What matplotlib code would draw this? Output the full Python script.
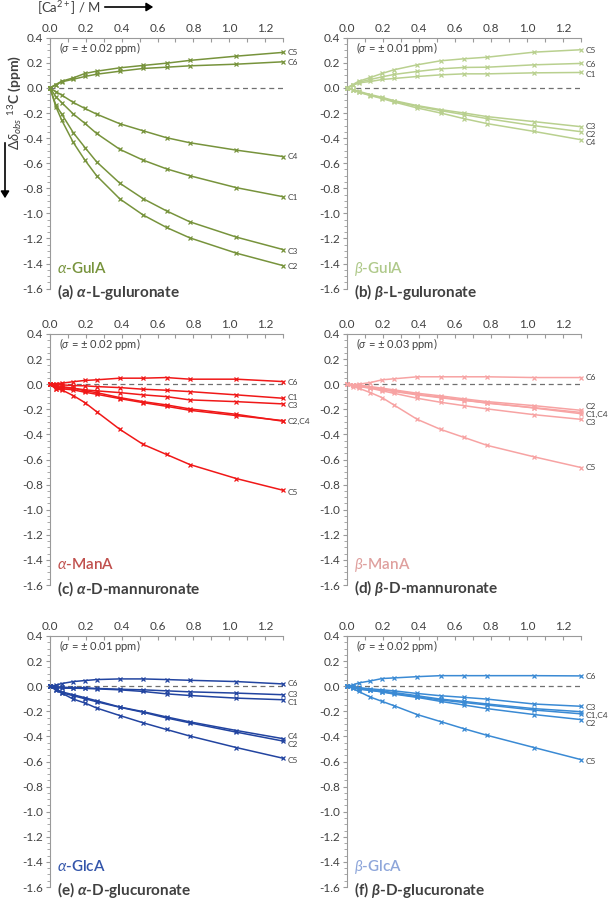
import matplotlib
matplotlib.use("Agg")
import matplotlib.pyplot as plt
from matplotlib.patches import FancyArrowPatch
from matplotlib.ticker import MultipleLocator, FormatStrFormatter

plt.rcParams["font.family"] = ["Lato", "DejaVu Sans"]
plt.rcParams["mathtext.fontset"] = "custom"
plt.rcParams["mathtext.rm"] = "Lato"
plt.rcParams["mathtext.it"] = "Lato:italic"
plt.rcParams["mathtext.bf"] = "Lato:italic:bold"

# [Ca2+] / M
CA_CONC = [0, 0.0325, 0.065, 0.13, 0.195, 0.26, 0.39, 0.52, 0.65, 0.78, 1.04, 1.30]
CARBONS = ["C1", "C2", "C3", "C4", "C5", "C6"]

# (a) alpha-L-guluronate
A_C1 = [0, -0.07, -0.117, -0.208, -0.283, -0.363, -0.49, -0.576, -0.645, -0.70, -0.795, -0.867]
A_C2 = [0, -0.149, -0.256, -0.435, -0.576, -0.70, -0.885, -1.013, -1.112, -1.195, -1.317, -1.416]
A_C3 = [0, -0.136, -0.208, -0.357, -0.475, -0.589, -0.76, -0.883, -0.98, -1.067, -1.189, -1.288]
A_C4 = [0, -0.03, -0.057, -0.116, -0.164, -0.209, -0.286, -0.342, -0.397, -0.437, -0.496, -0.547]
A_C5 = [0, 0.027, 0.053, 0.08, 0.115, 0.133, 0.16, 0.179, 0.197, 0.219, 0.253, 0.283]
A_C6 = [0, 0.025, 0.048, 0.069, 0.091, 0.109, 0.133, 0.155, 0.165, 0.176, 0.189, 0.208]

# (b) beta-L-guluronate
B_C1 = [0, 0.02, 0.04, 0.051, 0.067, 0.075, 0.091, 0.104, 0.112, 0.112, 0.12, 0.123]
B_C2 = [0, -0.016, -0.032, -0.059, -0.08, -0.107, -0.147, -0.181, -0.213, -0.245, -0.301, -0.349]
B_C3 = [0, -0.014, -0.027, -0.053, -0.075, -0.101, -0.141, -0.173, -0.2, -0.229, -0.269, -0.309]
B_C4 = [0, -0.018, -0.035, -0.061, -0.085, -0.112, -0.16, -0.2, -0.245, -0.285, -0.347, -0.413]
B_C5 = [0, 0.027, 0.053, 0.083, 0.115, 0.144, 0.184, 0.216, 0.232, 0.245, 0.285, 0.304]
B_C6 = [0, 0.022, 0.045, 0.067, 0.088, 0.107, 0.131, 0.152, 0.163, 0.165, 0.184, 0.195]

# (c) alpha-D-mannuronate
C_C1 = [0, -0.002, -0.005, -0.011, -0.013, -0.019, -0.027, -0.04, -0.048, -0.059, -0.085, -0.112]
C_C2 = [0, -0.035, -0.037, -0.045, -0.064, -0.08, -0.115, -0.147, -0.176, -0.208, -0.25, -0.29]
C_C3 = [0, -0.01, -0.019, -0.032, -0.045, -0.053, -0.067, -0.085, -0.099, -0.125, -0.139, -0.157]
C_C4 = [0, -0.02, -0.03, -0.032, -0.053, -0.067, -0.107, -0.139, -0.165, -0.197, -0.24, -0.295]
C_C5 = [0, -0.037, -0.045, -0.091, -0.147, -0.219, -0.36, -0.48, -0.56, -0.64, -0.752, -0.845]
C_C6 = [0, 0.005, 0.008, 0.02, 0.03, 0.035, 0.048, 0.048, 0.053, 0.04, 0.04, 0.021]

# (d) beta-D-mannuronate
D_C1 = [0, -0.006, -0.013, -0.027, -0.04, -0.053, -0.08, -0.104, -0.125, -0.152, -0.187, -0.225]
D_C2 = [0, -0.003, -0.005, -0.019, -0.032, -0.045, -0.072, -0.093, -0.117, -0.139, -0.171, -0.208]
D_C3 = [0, -0.01, -0.019, -0.032, -0.053, -0.072, -0.112, -0.144, -0.171, -0.197, -0.243, -0.28]
D_C4 = [0, -0.008, -0.015, -0.03, -0.045, -0.058, -0.085, -0.108, -0.13, -0.148, -0.19, -0.235]
D_C5 = [0, -0.019, -0.032, -0.067, -0.107, -0.165, -0.28, -0.36, -0.424, -0.488, -0.579, -0.664]
D_C6 = [0, -0.005, 0.0, 0.013, 0.035, 0.043, 0.059, 0.059, 0.059, 0.059, 0.053, 0.053]

# (e) alpha-D-glucuronate
E_C1 = [0, -0.01, -0.016, -0.016, -0.018, -0.021, -0.029, -0.042, -0.061, -0.074, -0.095, -0.108]
E_C2 = [0, -0.028, -0.053, -0.076, -0.1, -0.124, -0.168, -0.208, -0.253, -0.292, -0.366, -0.437]
E_C3 = [0, -0.005, -0.008, -0.011, -0.013, -0.018, -0.024, -0.029, -0.037, -0.045, -0.055, -0.068]
E_C4 = [0, -0.024, -0.045, -0.068, -0.092, -0.116, -0.166, -0.203, -0.245, -0.284, -0.353, -0.418]
E_C5 = [0, -0.029, -0.055, -0.103, -0.134, -0.174, -0.234, -0.292, -0.345, -0.397, -0.489, -0.574]
E_C6 = [0, 0.008, 0.021, 0.037, 0.045, 0.053, 0.058, 0.058, 0.053, 0.047, 0.037, 0.018]

# (f) beta-D-glucuronate
F_C1 = [0, -0.008, -0.016, -0.029, -0.039, -0.05, -0.076, -0.103, -0.121, -0.142, -0.179, -0.203]
F_C2 = [0, -0.012, -0.024, -0.034, -0.045, -0.063, -0.089, -0.121, -0.15, -0.179, -0.226, -0.266]
F_C3 = [0, -0.006, -0.011, -0.021, -0.029, -0.037, -0.058, -0.076, -0.089, -0.103, -0.142, -0.16]
F_C4 = [0, -0.01, -0.02, -0.032, -0.045, -0.058, -0.085, -0.11, -0.13, -0.15, -0.19, -0.22]
F_C5 = [0, -0.018, -0.042, -0.087, -0.121, -0.155, -0.226, -0.282, -0.339, -0.392, -0.489, -0.585]
F_C6 = [0, 0.01, 0.026, 0.042, 0.061, 0.066, 0.076, 0.084, 0.084, 0.084, 0.084, 0.082]

SIGMAS = ["0.02", "0.01", "0.02", "0.03", "0.01", "0.02"]
SHORT_NAMES = [r"$\alpha$-GulA", r"$\beta$-GulA", r"$\alpha$-ManA", r"$\beta$-ManA", r"$\alpha$-GlcA", r"$\beta$-GlcA"]
LONG_NAMES = [r"(a) $\mathbf{\alpha}$-L-guluronate", r"(b) $\mathbf{\beta}$-L-guluronate",
              r"(c) $\mathbf{\alpha}$-D-mannuronate", r"(d) $\mathbf{\beta}$-D-mannuronate",
              r"(e) $\mathbf{\alpha}$-D-glucuronate", r"(f) $\mathbf{\beta}$-D-glucuronate"]

# end-of-line labels: (text, y) - y nudged where lines end close together
END_LABELS = [
    [("C5", 0.285), ("C6", 0.205), ("C4", -0.55), ("C1", -0.87), ("C3", -1.30), ("C2", -1.42)],
    [("C5", 0.30), ("C6", 0.185), ("C1", 0.11), ("C3", -0.305), ("C2", -0.37), ("C4", -0.435)],
    [("C6", 0.013), ("C1", -0.107), ("C3", -0.173), ("C2,C4", -0.299), ("C5", -0.864)],
    [("C6", 0.05), ("C2", -0.178), ("C1,C4", -0.243), ("C3", -0.305), ("C5", -0.667)],
    [("C6", 0.024), ("C3", -0.063), ("C1", -0.129), ("C4", -0.398), ("C2", -0.462), ("C5", -0.59)],
    [("C6", 0.076), ("C3", -0.172), ("C1,C4", -0.234), ("C2", -0.295), ("C5", -0.60)],
]

LINE_COLORS = ["#77933C", "#B9D08F", "#F01818", "#F7A3A3", "#2244A0", "#3A8AD4"]
NAME_COLORS = ["#77933C", "#AFC98A", "#C0504D", "#DFA09E", "#3355AA", "#8EA6DA"]
TEXT_GRAY = "#404040"
SPINE_GRAY = "#9A9A9A"

# axes boxes in figure pixels: (left, top) of the plot area
_W, _H = 610, 899
_BOXES = [(50, 37.7), (347, 37.7), (50, 334), (347, 334), (50, 636), (347, 636)]
_BOX_W = [233, 234]
_BOX_H = 251


def _setup_axes(ax):
    ax.set_xlim(0, 1.3)
    ax.set_ylim(-1.6, 0.4)
    for side in ("right", "bottom"):
        ax.spines[side].set_visible(False)
    for side in ("left", "top"):
        ax.spines[side].set_color(SPINE_GRAY)
        ax.spines[side].set_linewidth(0.8)
    ax.xaxis.set_ticks_position("top")
    ax.xaxis.set_label_position("top")
    ax.xaxis.set_major_locator(MultipleLocator(0.2))
    ax.xaxis.set_minor_locator(MultipleLocator(0.1))
    ax.yaxis.set_major_locator(MultipleLocator(0.2))
    ax.yaxis.set_minor_locator(MultipleLocator(0.05))
    ax.xaxis.set_major_formatter(FormatStrFormatter("%.1f"))
    ax.yaxis.set_major_formatter(FormatStrFormatter("%.1f"))
    ax.tick_params(axis="x", which="both", direction="in", length=3, width=0.8,
                   color=SPINE_GRAY, labelsize=8.5, labelcolor=TEXT_GRAY, pad=3)
    ax.tick_params(axis="y", which="major", direction="out", length=3, width=0.8,
                   color=SPINE_GRAY, labelsize=8.5, labelcolor=TEXT_GRAY, pad=2)
    ax.tick_params(axis="y", which="minor", direction="out", length=2, width=0.6, color=SPINE_GRAY)
    ax.axhline(0, color="#707070", linestyle=(0, (4, 3)), linewidth=0.9, zorder=1)
    ax.patch.set_alpha(0)


def _draw_panel(ax, i, series):
    _setup_axes(ax)
    color = LINE_COLORS[i]
    for values in series:
        ax.plot(CA_CONC, values, color=color, linewidth=1.1, marker="x",
                markersize=2.4, markeredgewidth=0.9, zorder=3, clip_on=False)
    for text, y in END_LABELS[i]:
        ax.annotate(text, xy=(1.3, y), xytext=(3.5, 0), textcoords="offset points",
                    fontsize=6, color=TEXT_GRAY, va="center", ha="left",
                    annotation_clip=False)
    ax.text(0.05, 0.32, rf"($\sigma$ = ± {SIGMAS[i]} ppm)", fontsize=8,
            color=TEXT_GRAY, va="center", ha="left")
    ax.text(0.04, -1.44, SHORT_NAMES[i], fontsize=11, color=NAME_COLORS[i],
            fontweight="semibold", va="center", ha="left")
    ax.text(0.04, -1.625, LONG_NAMES[i], fontsize=11, color=TEXT_GRAY,
            fontweight="bold", va="center", ha="left")


def main():
    fig = plt.figure(figsize=(_W / 100, _H / 100), dpi=100)
    all_series = [
        [A_C1, A_C2, A_C3, A_C4, A_C5, A_C6],
        [B_C1, B_C2, B_C3, B_C4, B_C5, B_C6],
        [C_C1, C_C2, C_C3, C_C4, C_C5, C_C6],
        [D_C1, D_C2, D_C3, D_C4, D_C5, D_C6],
        [E_C1, E_C2, E_C3, E_C4, E_C5, E_C6],
        [F_C1, F_C2, F_C3, F_C4, F_C5, F_C6],
    ]
    for i, (left, top) in enumerate(_BOXES):
        w = _BOX_W[i % 2]
        ax = fig.add_axes([left / _W, 1 - (top + _BOX_H) / _H, w / _W, _BOX_H / _H])
        _draw_panel(ax, i, all_series[i])

    # axis titles with arrows, drawn in figure pixels
    fig.text(37 / _W, 1 - 8 / _H, r"[Ca$^{2+}$] / M", fontsize=9.5, color=TEXT_GRAY,
             ha="left", va="center")
    fig.add_artist(FancyArrowPatch(
        (102 / _W, 1 - 7 / _H), (156 / _W, 1 - 7 / _H), transform=fig.transFigure,
        arrowstyle="-|>,head_length=4,head_width=2.5", color="black", linewidth=1.2))
    fig.text(15 / _W, 1 - 102 / _H, r"$\Delta\delta_{obs}$ $^{13}$C (ppm)", fontsize=10,
             color=TEXT_GRAY, fontweight="bold", rotation=90, ha="center", va="center")
    fig.add_artist(FancyArrowPatch(
        (5 / _W, 1 - 140 / _H), (5 / _W, 1 - 201 / _H), transform=fig.transFigure,
        arrowstyle="-|>,head_length=4,head_width=2.5", color="black", linewidth=1.2))

    fig.savefig("out.png", dpi=100)


if __name__ == "__main__":
    main()
